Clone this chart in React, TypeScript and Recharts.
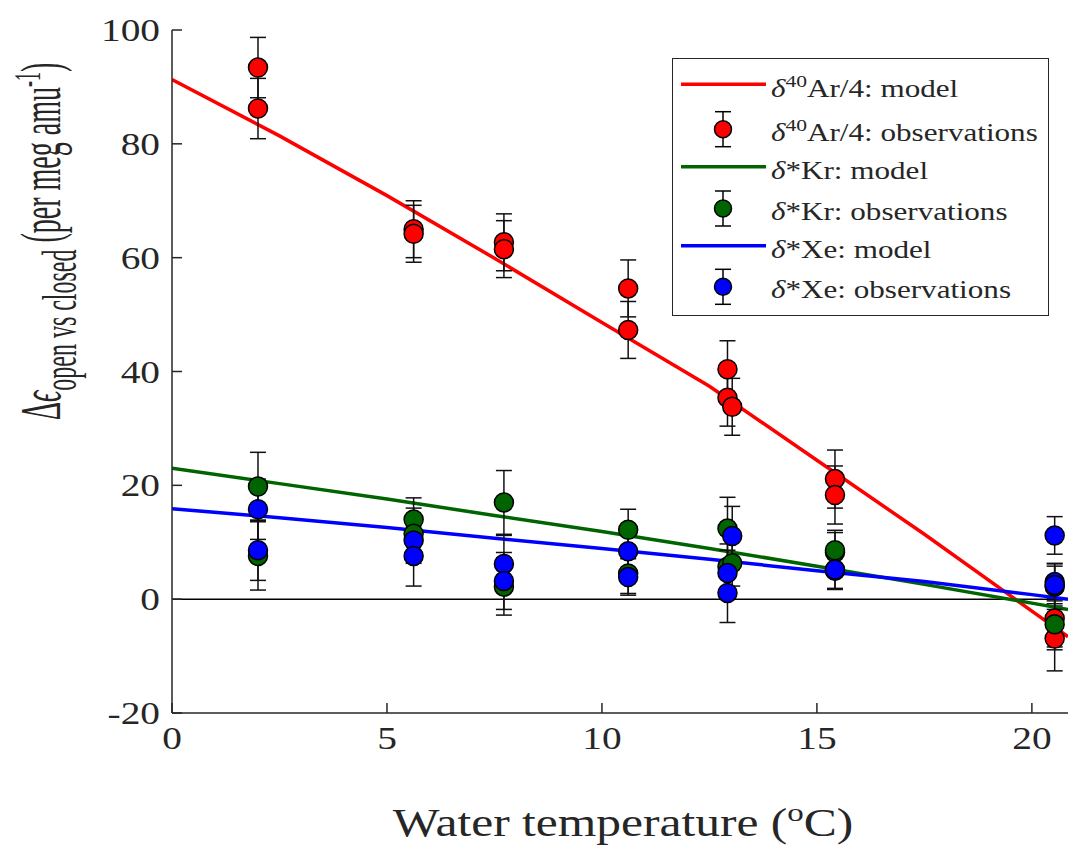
import React from 'react';
import {
  ComposedChart,
  XAxis,
  YAxis,
  Scatter,
  Line,
  ErrorBar,
  ReferenceLine,
  Legend,
  Label,
} from 'recharts';

const SERIF = '"Liberation Serif", "Times New Roman", serif';
const STRETCH = 1.27;
const INK = '#262626';

const xTicks = [0, 5, 10, 15, 20];
const yTicks = [-20, 0, 20, 40, 60, 80, 100];

// model curves
const modelTemps = [0, 2.5, 5, 7.5, 10, 12.5, 15, 17.5, 20, 20.84];
const arModel = [91.3, 81.4, 70.9, 59.9, 48.6, 37.4, 24.4, 11.4, -2.1, -6.6];
const krModel = [23.0, 20.3, 17.6, 14.7, 11.9, 8.9, 5.8, 2.6, -0.7, -1.8];
const xeModel = [15.9, 14.3, 12.6, 10.7, 8.9, 7.0, 5.0, 3.1, 0.8, 0.0];

// observations (value +/- error)
const arTemps = [2.0, 2.0, 5.62, 5.62, 7.72, 7.72, 10.61, 10.61, 12.92, 12.92, 13.03, 15.42, 15.42, 20.53, 20.53];
const arObs = [93.4, 86.2, 65.0, 64.2, 62.7, 61.5, 54.6, 47.3, 40.4, 35.4, 33.8, 21.1, 18.3, -3.4, -6.9];
const arErr = [5.3, 5.3, 5.0, 5.0, 5.0, 5.0, 5.0, 5.0, 5.0, 5.0, 5.0, 5.1, 5.1, 5.0, 5.7];

const krTemps = [2.0, 2.0, 5.62, 5.62, 7.72, 7.72, 10.61, 10.61, 12.92, 12.92, 13.03, 15.42, 15.42, 20.53, 20.53];
const krObs = [19.8, 7.6, 14.0, 11.5, 17.0, 2.2, 12.2, 4.5, 12.4, 5.7, 6.3, 8.2, 8.6, 2.2, -4.4];
const krErr = [6.0, 6.0, 3.8, 4.5, 5.6, 5.0, 3.6, 3.5, 5.5, 4.0, 4.0, 3.5, 3.5, 4.0, 4.5];

const xeTemps = [2.0, 2.0, 5.62, 5.62, 7.72, 7.72, 10.61, 10.61, 12.92, 12.92, 13.03, 15.42, 15.42, 20.53, 20.53, 20.53];
const xeObs = [15.8, 8.6, 10.3, 7.6, 6.2, 3.2, 8.4, 3.9, 4.6, 1.1, 11.1, 5.0, 5.2, 11.2, 3.0, 2.5];
const xeErr = [5.3, 5.3, 4.0, 5.3, 5.0, 5.0, 3.5, 3.2, 4.0, 5.2, 5.2, 3.3, 3.3, 3.3, 3.3, 3.3];

const seriesColors = ['#ff0000', '#006400', '#0000ff'];
const legendSups = ['40', '', ''];
const legendNames = ['Ar/4', '*Kr', '*Xe'];

const toPoints = (xs: number[], ys: number[], errs?: number[]) =>
  xs.map((x, i) => ({ x, y: ys[i], err: errs ? errs[i] : 0 }));

const arModelData = toPoints(modelTemps, arModel);
const krModelData = toPoints(modelTemps, krModel);
const xeModelData = toPoints(modelTemps, xeModel);
const arObsData = toPoints(arTemps, arObs, arErr);
const krObsData = toPoints(krTemps, krObs, krErr);
const xeObsData = toPoints(xeTemps, xeObs, xeErr);

const makeDot = (fill: string) => (props: any) => (
  <circle cx={props.cx} cy={props.cy} r={9.5} fill={fill} stroke="#000" strokeWidth={1.5} />
);

const YTick = (p: any) => (
  <g>
    <line x1={p.x + 12} x2={p.x + 22} y1={p.y} y2={p.y} stroke={INK} strokeWidth={1.5} />
    <text
      transform={`translate(${p.x},${p.y + 11}) scale(${STRETCH},1)`}
      textAnchor="end"
      fontFamily={SERIF}
      fontSize={31}
      fill={INK}
    >
      {p.payload.value}
    </text>
  </g>
);

const XTick = (p: any) => (
  <g>
    <line x1={p.x} x2={p.x} y1={p.y} y2={p.y - 10} stroke={INK} strokeWidth={1.5} />
    <text
      transform={`translate(${p.x},${p.y + 36}) scale(${STRETCH},1)`}
      textAnchor="middle"
      fontFamily={SERIF}
      fontSize={31}
      fill={INK}
    >
      {p.payload.value}
    </text>
  </g>
);

const XTitle = () => (
  <text
    transform={`translate(623,836) scale(${STRETCH},1)`}
    textAnchor="middle"
    fontFamily={SERIF}
    fontSize={39}
    fill={INK}
  >
    Water temperature (
    <tspan fontSize={26} dy={-15}>o</tspan>
    <tspan dy={15}>C)</tspan>
  </text>
);

const YTitle = () => (
  <text
    transform="translate(60,420) scale(2.05,1) rotate(-90)"
    fontFamily={SERIF}
    fontSize={28}
    fill={INK}
  >
    <tspan>Δ</tspan>
    <tspan fontStyle="italic">ϵ</tspan>
    <tspan fontSize={24} dy={8}>open vs closed</tspan>
    <tspan dy={-8}> (per meg amu</tspan>
    <tspan fontSize={18} dy={-10}>-1</tspan>
    <tspan dy={10}>)</tspan>
  </text>
);

const legendBaselines = [39.7, 83.7, 122.3, 163, 201.3, 241.3];

const LegendBox = () => (
  <svg width={380} height={262} style={{ display: 'block' }}>
    <rect x={1.5} y={1.5} width={376} height={257} fill="#fff" stroke={INK} strokeWidth={1} />
    {seriesColors.map((color, i) => {
      const bl = legendBaselines[i * 2];
      const bo = legendBaselines[i * 2 + 1];
      const label = (base: number, kind: string) => (
        <text
          transform={`translate(100,${base}) scale(${STRETCH},1)`}
          fontFamily={SERIF}
          fontSize={24.5}
          fill={INK}
        >
          <tspan fontStyle="italic">δ</tspan>
          {legendSups[i] ? (
            <>
              <tspan fontSize={17} dy={-10}>{legendSups[i]}</tspan>
              <tspan dy={10}>{legendNames[i]}: {kind}</tspan>
            </>
          ) : (
            <tspan>{legendNames[i]}: {kind}</tspan>
          )}
        </text>
      );
      return (
        <g key={color}>
          <line x1={10} x2={95} y1={bl - 12.5} y2={bl - 12.5} stroke={color} strokeWidth={3.5} />
          {label(bl, 'model')}
          <line x1={52} x2={52} y1={bo - 29} y2={bo + 6} stroke="#000" strokeWidth={1.5} />
          <line x1={44} x2={60} y1={bo - 29} y2={bo - 29} stroke="#000" strokeWidth={1.5} />
          <line x1={44} x2={60} y1={bo + 6} y2={bo + 6} stroke="#000" strokeWidth={1.5} />
          <circle cx={52} cy={bo - 11.5} r={8.5} fill={color} stroke="#000" strokeWidth={1.5} />
          {label(bo, 'observations')}
        </g>
      );
    })}
  </svg>
);

export default function App() {
  return (
    <div style={{ position: 'absolute', left: 0, top: 0, background: '#fff' }}>
      <ComposedChart width={1068} height={846} margin={{ top: 30, right: 0, bottom: 0, left: 0 }}>
        <XAxis
          type="number"
          dataKey="x"
          domain={[0, 20.84]}
          ticks={xTicks}
          allowDataOverflow
          height={133}
          axisLine={{ stroke: INK, strokeWidth: 1.5 }}
          tickLine={false}
          tickSize={0}
          tickMargin={0}
          tick={XTick}
        >
          <Label content={XTitle} />
        </XAxis>
        <YAxis
          type="number"
          dataKey="y"
          domain={[-20, 100]}
          ticks={yTicks}
          allowDataOverflow
          width={172}
          axisLine={{ stroke: INK, strokeWidth: 1.5 }}
          tickLine={false}
          tickSize={0}
          tickMargin={12}
          tick={YTick}
        >
          <Label content={YTitle} />
        </YAxis>
        <ReferenceLine y={0} stroke="#000" strokeWidth={1.5} />

        <Line data={arModelData} dataKey="y" type="linear" stroke={seriesColors[0]} strokeWidth={3.5} dot={false} activeDot={false} isAnimationActive={false} />
        <Scatter data={arObsData} dataKey="y" shape={makeDot(seriesColors[0])} isAnimationActive={false}>
          <ErrorBar dataKey="err" direction="y" width={8} stroke="#111" strokeWidth={1.5} isAnimationActive={false} />
        </Scatter>

        <Line data={krModelData} dataKey="y" type="linear" stroke={seriesColors[1]} strokeWidth={3.5} dot={false} activeDot={false} isAnimationActive={false} />
        <Scatter data={krObsData} dataKey="y" shape={makeDot(seriesColors[1])} isAnimationActive={false}>
          <ErrorBar dataKey="err" direction="y" width={8} stroke="#111" strokeWidth={1.5} isAnimationActive={false} />
        </Scatter>

        <Line data={xeModelData} dataKey="y" type="linear" stroke={seriesColors[2]} strokeWidth={3.5} dot={false} activeDot={false} isAnimationActive={false} />
        <Scatter data={xeObsData} dataKey="y" shape={makeDot(seriesColors[2])} isAnimationActive={false}>
          <ErrorBar dataKey="err" direction="y" width={8} stroke="#111" strokeWidth={1.5} isAnimationActive={false} />
        </Scatter>

        <Legend
          layout="horizontal"
          verticalAlign="middle"
          align="center"
          content={LegendBox}
          wrapperStyle={{ position: 'absolute', left: 671, top: 56.5, width: 380, height: 262 }}
        />
      </ComposedChart>
    </div>
  );
}
